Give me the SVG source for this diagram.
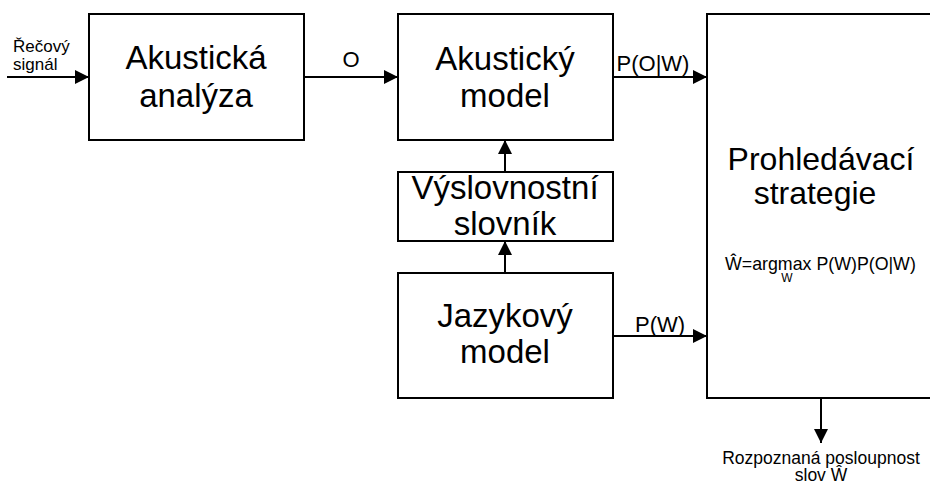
<svg xmlns="http://www.w3.org/2000/svg" width="930" height="485" viewBox="0 0 930 485">
<defs>
<style>
.box{fill:#fff;stroke:#000;stroke-width:2}
.lnk{fill:none;stroke:#000;stroke-width:2;marker-end:url(#ah)}
text{font-family:"Liberation Sans",Arial,sans-serif;fill:#000}
.big{font-size:33px;text-anchor:middle}
.lbl{font-size:22px;text-anchor:middle}
.sm{font-size:17px}
</style>
<marker id="ah" markerUnits="userSpaceOnUse" markerWidth="14" markerHeight="14" refX="14" refY="7" orient="auto">
<path d="M0,0 L14,7 L0,14 z" fill="#000"/>
</marker>
</defs>
<rect width="930" height="485" fill="#fff"/>
<g id="connectors">
<line class="lnk" x1="7" y1="77" x2="89" y2="77"/>
<line class="lnk" x1="304" y1="77" x2="398" y2="77"/>
<line class="lnk" x1="613" y1="77" x2="707" y2="77"/>
<line class="lnk" x1="505" y1="172" x2="505" y2="140"/>
<line class="lnk" x1="505" y1="273" x2="505" y2="241"/>
<line class="lnk" x1="613" y1="336" x2="707" y2="336"/>
<line class="lnk" x1="821" y1="398" x2="821" y2="443"/>
<text class="sm" x="13" y="52">Řečový</text>
<text class="sm" x="13" y="70">signál</text>
<text class="lbl" x="351" y="67">O</text>
<text class="lbl" x="653" y="71">P(O|W)</text>
<text class="lbl" x="660" y="332">P(W)</text>
<text class="sm" x="821" y="464" text-anchor="middle" style="font-size:17.5px">Rozpoznaná posloupnost</text>
<text class="sm" x="821" y="481" text-anchor="middle" style="font-size:17.5px">slov Ŵ</text>
</g>
<g id="akusticka-analyza">
<rect class="box" x="89" y="14" width="215" height="126"/>
<text class="big" x="196" y="69">Akustická</text>
<text class="big" x="196" y="107">analýza</text>
</g>
<g id="akusticky-model">
<rect class="box" x="398" y="14" width="215" height="126"/>
<text class="big" x="505" y="70">Akustický</text>
<text class="big" x="505" y="107">model</text>
</g>
<g id="vyslovnostni-slovnik">
<rect class="box" x="398" y="172" width="215" height="69"/>
<text class="big" x="505" y="199">Výslovnostní</text>
<text class="big" x="505" y="235">slovník</text>
</g>
<g id="jazykovy-model">
<rect class="box" x="398" y="273" width="215" height="125"/>
<text class="big" x="505" y="327">Jazykový</text>
<text class="big" x="505" y="363">model</text>
</g>
<g id="prohledavaci-strategie">
<rect class="box" x="707" y="14" width="260" height="384"/>
<text class="big" x="821" y="170" style="font-size:32px">Prohledávací</text>
<text class="big" x="815" y="204" style="font-size:32px">strategie</text>
<text x="725" y="270" style="font-size:17.8px">Ŵ=argmax P(W)P(O|W)</text>
<text x="787" y="282" text-anchor="middle" style="font-size:12px">W</text>
</g>
</svg>
